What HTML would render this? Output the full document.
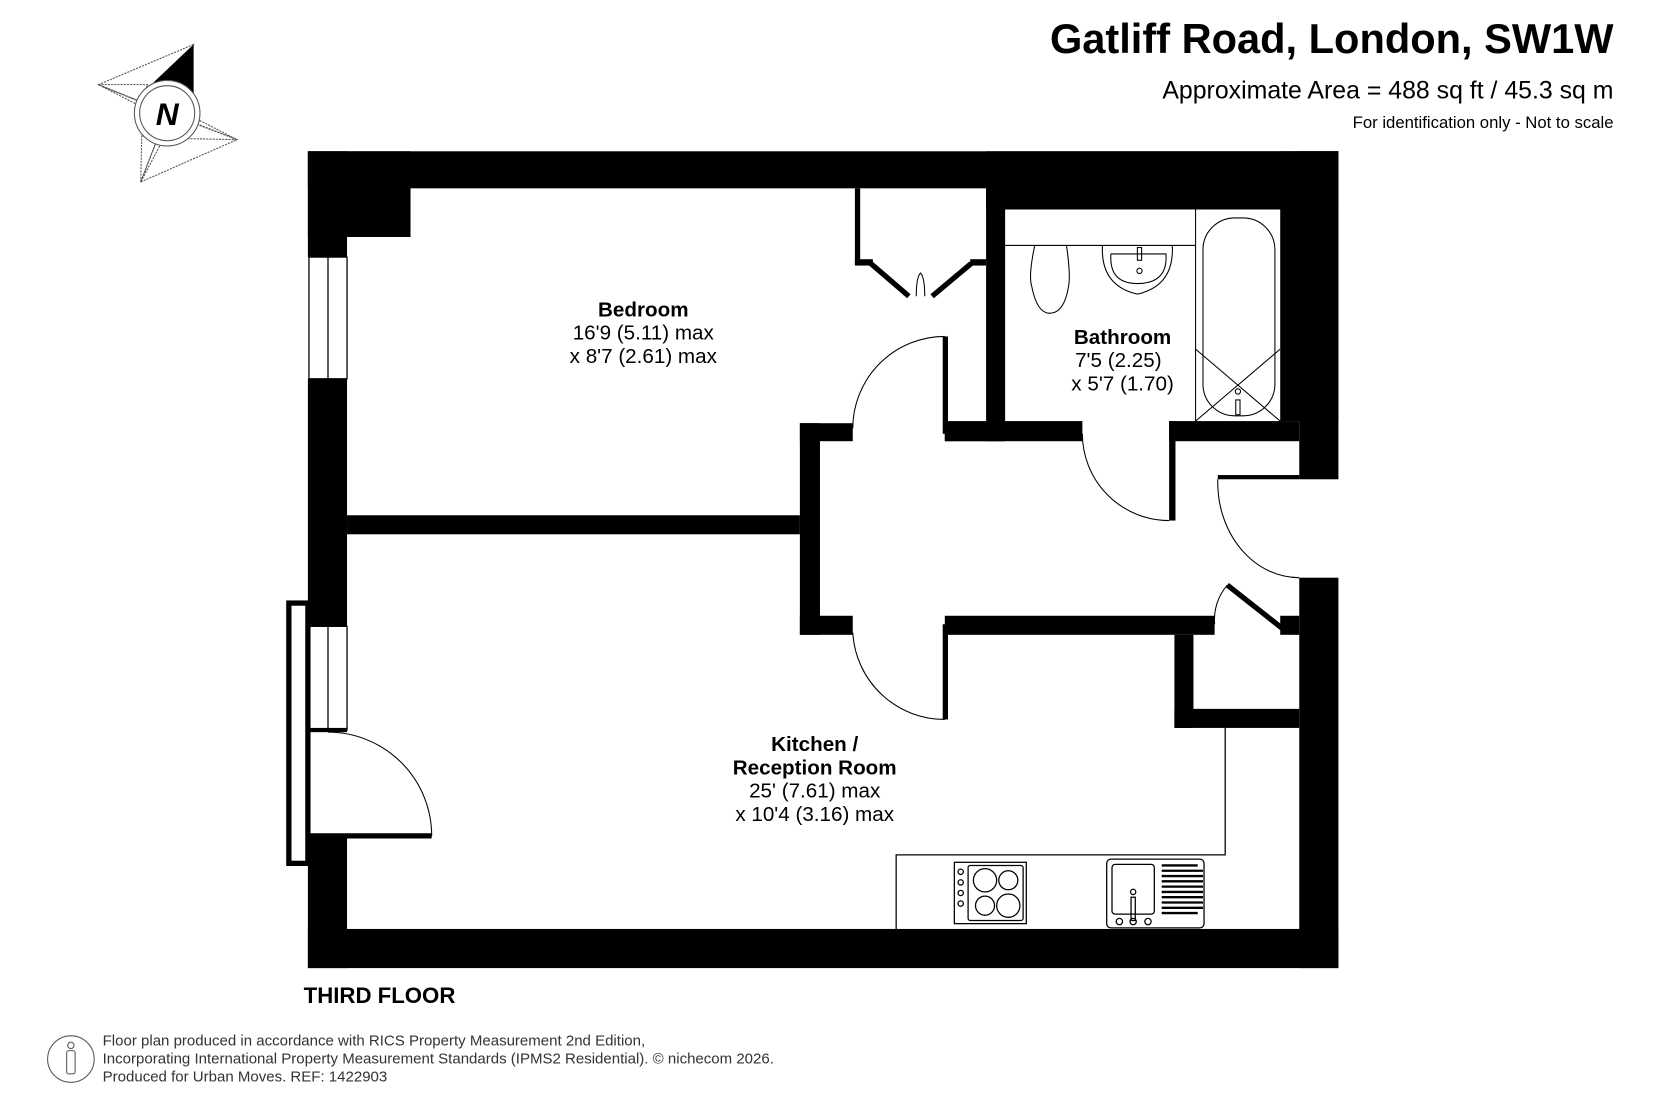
<!DOCTYPE html>
<html><head><meta charset="utf-8"><style>
html,body{margin:0;padding:0;background:#fff;}
svg{display:block;}
text{font-family:"Liberation Sans",Arial,sans-serif;fill:#000;}
</style></head><body>
<svg width="1659" height="1105" viewBox="0 0 1568 1044.4" xmlns="http://www.w3.org/2000/svg">
<rect x="0" y="0" width="1568" height="1044.4" fill="#fff"/>
<!-- Title -->
<text x="1525" y="50" text-anchor="end" font-size="39.3" font-weight="bold">Gatliff Road, London, SW1W</text>
<text x="1525" y="93" text-anchor="end" font-size="23.5">Approximate Area = 488 sq ft / 45.3 sq m</text>
<text x="1525" y="121" text-anchor="end" font-size="15.8">For identification only - Not to scale</text>

<!-- Compass -->
<g stroke="#555" stroke-width="1" stroke-dasharray="2,1" fill="none">
<polygon points="183,42 93,80 224,132 133,172" fill="none"/>
<line x1="93" y1="80" x2="158" y2="107"/>
<line x1="224" y1="132" x2="158" y2="107"/>
<line x1="133" y1="172" x2="158" y2="107"/>
<polygon points="93,80 140,80 128,98"/>
<polygon points="224,132 176,131 189,114"/>
<polygon points="133,172 134,128 152,136"/>
</g>
<polygon points="183,42 183,92 168,80 145,78" fill="#000"/>
<circle cx="158" cy="107" r="31" fill="#fff" stroke="#555" stroke-width="1"/>
<circle cx="158" cy="107" r="26" fill="#fff" stroke="#555" stroke-width="1"/>
<text x="158" y="118" text-anchor="middle" font-size="30" font-weight="bold" font-style="italic">N</text>

<!-- Walls -->
<g fill="#000">
<rect x="291" y="143" width="974" height="35"/>
<rect x="291" y="143" width="97" height="81"/>
<rect x="932" y="143" width="333" height="55"/>
<rect x="1210" y="143" width="55" height="255"/>
<rect x="1228" y="143" width="37" height="310"/>
<rect x="1228" y="546" width="37" height="369"/>
<rect x="291" y="878" width="974" height="37"/>
<rect x="291" y="143" width="37" height="100"/>
<rect x="291" y="358" width="37" height="234"/>
<rect x="291" y="790" width="37" height="125"/>
<rect x="328" y="487" width="428" height="18"/>
<rect x="756" y="400" width="19" height="200"/>
<rect x="756" y="400" width="50" height="17"/>
<rect x="756" y="582" width="50" height="18"/>
<rect x="893" y="400" width="57" height="17"/>
<rect x="932" y="178" width="18" height="239"/>
<rect x="893" y="398" width="130" height="19"/>
<rect x="1105" y="398" width="123" height="19"/>
<rect x="1105" y="398" width="6" height="94"/>
<rect x="891" y="318" width="5" height="92"/>
<rect x="893" y="582" width="255" height="18"/>
<rect x="891" y="590" width="5" height="90"/>
<rect x="1210" y="582" width="18" height="18"/>
<rect x="1110" y="600" width="18" height="88"/>
<rect x="1110" y="670" width="118" height="18"/>
<rect x="808" y="178" width="5" height="72"/>
<rect x="808" y="245" width="17" height="6"/>
<rect x="917" y="245" width="15" height="6"/>
<rect x="1151" y="449" width="77" height="4"/>
</g>
<g stroke="#000" stroke-width="5" fill="none">
<line x1="823" y1="249" x2="859" y2="280"/>
<line x1="918" y1="249" x2="881" y2="280"/>
<line x1="1160" y1="553" x2="1212" y2="594"/>
<line x1="291" y1="790" x2="408" y2="790"/>
</g>
<!-- windows -->
<g stroke="#000" stroke-width="1.2" fill="#fff">
<rect x="292" y="243" width="36" height="115"/>
<line x1="310" y1="243" x2="310" y2="358"/>
<rect x="292" y="592" width="36" height="98"/>
<line x1="310" y1="592" x2="310" y2="690"/>
</g>
<rect x="273" y="570" width="18" height="246" fill="none" stroke="#000" stroke-width="5"/>
<rect x="291" y="688" width="37" height="4" fill="#000"/>
<!-- door arcs -->
<g stroke="#000" stroke-width="1" fill="none">
<path d="M310,692 A98,98 0 0 1 408,790"/>
<path d="M806,405 A87,87 0 0 1 893,318"/>
<path d="M806,598 A87,87 0 0 0 893,680"/>
<path d="M1023,410 A82,82 0 0 0 1105,492"/>
<path d="M1151,453 A77,90 0 0 0 1228,546"/>
<path d="M1148,590 A50,50 0 0 1 1160,553"/>
<path d="M866,280 Q866,262 870,258 Q874,262 874,280"/>
</g>
<!-- bathroom fixtures -->
<g stroke="#000" stroke-width="1" fill="none">
<line x1="950" y1="232" x2="1130" y2="232"/>
<line x1="1130" y1="198" x2="1130" y2="398"/>
<rect x="1137" y="206" width="68" height="187" rx="30"/>
<line x1="1130" y1="330" x2="1210" y2="398"/>
<line x1="1210" y1="330" x2="1130" y2="398"/>
<path d="M978,232 Q972,260 975,270 Q980,296 992,296 Q1006,296 1010,270 Q1012,260 1008,232"/>
<path d="M1042,232 Q1040,270 1075,278 Q1110,270 1108,232"/>
<path d="M1050,240 L1102,240 Q1104,268 1075,268 Q1048,268 1050,240"/>
<circle cx="1077" cy="256" r="2.5"/>
<rect x="1075" y="234" width="4" height="12"/>
<circle cx="1170" cy="370" r="2.5"/>
<rect x="1168" y="378" width="4" height="14"/>
</g>
<!-- kitchen -->
<g stroke="#000" stroke-width="1.2" fill="none">
<polyline points="847,878 847,808 1158,808 1158,688"/>
<rect x="902" y="815" width="68" height="58"/>
<rect x="915" y="818" width="52" height="52" rx="2"/>
<circle cx="931" cy="832" r="11"/><circle cx="953" cy="832" r="9"/>
<circle cx="931" cy="856" r="9"/><circle cx="953" cy="856" r="11"/>
<circle cx="908" cy="824" r="2.5"/><circle cx="908" cy="834" r="2.5"/><circle cx="908" cy="844" r="2.5"/><circle cx="908" cy="854" r="2.5"/>
<rect x="1046" y="812" width="92" height="65" rx="4"/>
<rect x="1051" y="817" width="40" height="47" rx="3"/>
<circle cx="1071" cy="843" r="2.5"/>
<rect x="1069" y="848" width="4" height="22"/>
<circle cx="1071" cy="871" r="3"/>
<circle cx="1058" cy="871" r="3"/><circle cx="1085" cy="871" r="3"/>
</g>
<g stroke="#000" stroke-width="2.2">
<line x1="1098" y1="818" x2="1132" y2="818"/><line x1="1098" y1="823" x2="1137" y2="823"/>
<line x1="1098" y1="828" x2="1137" y2="828"/><line x1="1098" y1="833" x2="1137" y2="833"/>
<line x1="1098" y1="838" x2="1137" y2="838"/><line x1="1098" y1="843" x2="1137" y2="843"/>
<line x1="1098" y1="848" x2="1137" y2="848"/><line x1="1098" y1="853" x2="1137" y2="853"/>
<line x1="1098" y1="858" x2="1137" y2="858"/><line x1="1098" y1="863" x2="1132" y2="863"/>
</g>

<!-- Labels -->
<g text-anchor="middle" font-size="19.5">
<text x="608" y="299" font-weight="bold">Bedroom</text>
<text x="608" y="321">16'9 (5.11) max</text>
<text x="608" y="343">x 8'7 (2.61) max</text>
<text x="1061" y="325" font-weight="bold">Bathroom</text>
<text x="1057" y="347">7'5 (2.25)</text>
<text x="1061" y="369">x 5'7 (1.70)</text>
<text x="770" y="710" font-weight="bold">Kitchen /</text>
<text x="770" y="732" font-weight="bold">Reception Room</text>
<text x="770" y="754">25' (7.61) max</text>
<text x="770" y="776">x 10'4 (3.16) max</text>
</g>
<text x="287" y="948" font-size="21" font-weight="bold">THIRD FLOOR</text>

<!-- Footer -->
<circle cx="67" cy="1001" r="22" fill="none" stroke="#555" stroke-width="1"/>
<circle cx="67" cy="988" r="3" fill="none" stroke="#555" stroke-width="1"/>
<rect x="63" y="993" width="8" height="22" rx="2" fill="none" stroke="#555" stroke-width="1"/>
<g font-size="14.2">
<text x="97" y="988" style="fill:#333">Floor plan produced in accordance with RICS Property Measurement 2nd Edition,</text>
<text x="97" y="1005" style="fill:#333">Incorporating International Property Measurement Standards (IPMS2 Residential).   © nichecom 2026.</text>
<text x="97" y="1022" style="fill:#333">Produced for Urban Moves.   REF: 1422903</text>
</g>
</svg>
</body></html>
